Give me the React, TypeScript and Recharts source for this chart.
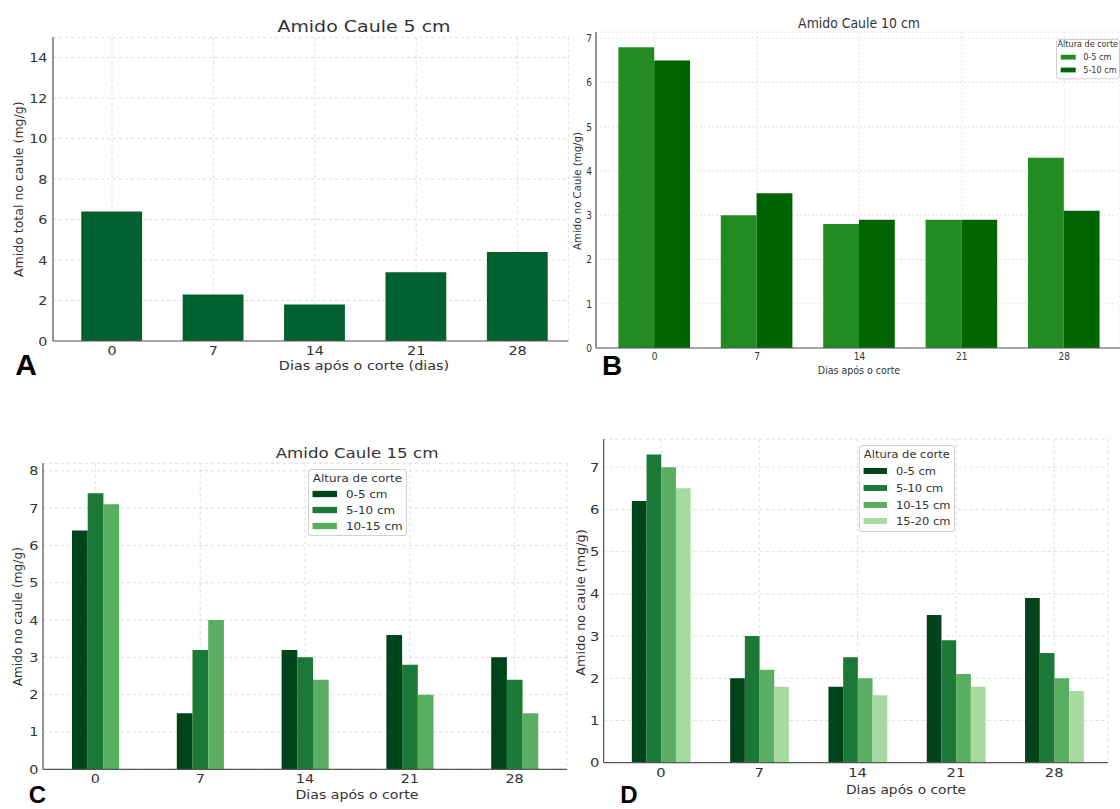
import React from 'react';
import { BarChart, Bar, XAxis, YAxis, CartesianGrid, Legend } from 'recharts';

// ---------- data ----------
const days = ['0', '7', '14', '21', '28'];

const caule5 = [6.4, 2.3, 1.8, 3.4, 4.4];

const caule10_0_5 = [6.8, 3.0, 2.8, 2.9, 4.3];
const caule10_5_10 = [6.5, 3.5, 2.9, 2.9, 3.1];

const caule15_0_5 = [6.4, 1.5, 3.2, 3.6, 3.0];
const caule15_5_10 = [7.4, 3.2, 3.0, 2.8, 2.4];
const caule15_10_15 = [7.1, 4.0, 2.4, 2.0, 1.5];

const caule20_0_5 = [6.2, 2.0, 1.8, 3.5, 3.9];
const caule20_5_10 = [7.3, 3.0, 2.5, 2.9, 2.6];
const caule20_10_15 = [7.0, 2.2, 2.0, 2.1, 2.0];
const caule20_15_20 = [6.5, 1.8, 1.6, 1.8, 1.7];

const ticksA = [0, 2, 4, 6, 8, 10, 12, 14];
const ticksB = [0, 1, 2, 3, 4, 5, 6, 7];
const ticksC = [0, 1, 2, 3, 4, 5, 6, 7, 8];
const ticksD = [0, 1, 2, 3, 4, 5, 6, 7];

const heightLabels = ['0-5 cm', '5-10 cm', '10-15 cm', '15-20 cm'];
const legendTitle = 'Altura de corte';

const titleA = 'Amido Caule 5 cm';
const titleB = 'Amido Caule 10 cm';
const titleC = 'Amido Caule 15 cm';
const xLabelA = 'Dias após o corte (dias)';
const xLabel = 'Dias após o corte';
const yLabelA = 'Amido total no caule (mg/g)';
const yLabelB = 'Amido no Caule (mg/g)';
const yLabelCD = 'Amido no caule (mg/g)';

const buildRows = (cols: number[][]) =>
  days.map((d, i) => {
    const row: Record<string, string | number> = { day: d };
    cols.forEach((c, j) => {
      row['s' + j] = c[i];
    });
    return row;
  });

// ---------- layout / style ----------
const FONT = 'DejaVu Sans, Verdana, sans-serif';
const TXT = '#333333';
const XAXIS_H = 30;

type SeriesDef = { key: string; name: string; color: string };
type LegendCfg = {
  left: number; top: number; width: number; height: number;
  titleX: number; titleY: number;
  patchX: number; patchW: number; patchH: number;
  rowY: number[]; labelX: number; font: number; sx: number;
};
type PanelCfg = {
  box: { left: number; top: number; width: number; height: number };
  plot: { left: number; right: number; top: number; bottom: number };
  padL: number; padR: number;
  domainMax: number; ticks: number[];
  data: Record<string, string | number>[];
  series: SeriesDef[];
  barSize: number;
  tickFont: number; sx: number; xTickDy: number; yTickGap: number;
  gridStroke: string; gridDash: string;
  legend?: LegendCfg;
};

const StretchText = ({ x, y, sx, anchor, size, children, fill = TXT, dy }: any) => (
  <g transform={`translate(${x},${y}) scale(${sx},1)`}>
    <text x={0} y={0} dy={dy} textAnchor={anchor} fontSize={size} fontFamily={FONT} fill={fill}>
      {children}
    </text>
  </g>
);

const panels: PanelCfg[] = [
  {
    box: { left: 0, top: 0, width: 570, height: 400 },
    plot: { left: 53, right: 568.3, top: 37.3, bottom: 341 },
    padL: 8.3, padR: 0,
    domainMax: 15, ticks: ticksA,
    data: buildRows([caule5]),
    series: [{ key: 's0', name: 'Amido', color: '#00602f' }],
    barSize: 60.8,
    tickFont: 12.5, sx: 1.15, xTickDy: 14, yTickGap: 5.5,
    gridStroke: '#d4d4d4', gridDash: '3 3',
  },
  {
    box: { left: 560, top: 0, width: 560, height: 400 },
    plot: { left: 596, right: 1120, top: 32.1, bottom: 348 },
    padL: 7.4, padR: 4.6,
    domainMax: 7.14, ticks: ticksB,
    data: buildRows([caule10_0_5, caule10_5_10]),
    series: [
      { key: 's0', name: heightLabels[0], color: '#228B22' },
      { key: 's1', name: heightLabels[1], color: '#006400' },
    ],
    barSize: 35.8,
    tickFont: 10.5, sx: 0.86, xTickDy: 12, yTickGap: 4,
    gridStroke: '#dcdcdc', gridDash: '2 2',
    legend: {
      left: 1056, top: 39, width: 64, height: 40.3,
      titleX: 31.8, titleY: 8,
      patchX: 4.7, patchW: 15, patchH: 4.8,
      rowY: [18.2, 31], labelX: 27.3, font: 9, sx: 0.9,
    },
  },
  {
    box: { left: 0, top: 430, width: 575, height: 379 },
    plot: { left: 43, right: 567, top: 463.3, bottom: 769.3 },
    padL: 0, padR: 0,
    domainMax: 8.2, ticks: ticksC,
    data: buildRows([caule15_0_5, caule15_5_10, caule15_10_15]),
    series: [
      { key: 's0', name: heightLabels[0], color: '#00441b' },
      { key: 's1', name: heightLabels[1], color: '#1b7837' },
      { key: 's2', name: heightLabels[2], color: '#5aae61' },
    ],
    barSize: 15.7,
    tickFont: 12.5, sx: 1.15, xTickDy: 13.4, yTickGap: 4.5,
    gridStroke: '#d4d4d4', gridDash: '3 3',
    legend: {
      left: 308, top: 469, width: 99, height: 67,
      titleX: 49.5, titleY: 12.7,
      patchX: 4.5, patchW: 24.5, patchH: 6.3,
      rowY: [25, 41, 57], labelX: 38, font: 10.4, sx: 1.15,
    },
  },
  {
    box: { left: 560, top: 430, width: 560, height: 379 },
    plot: { left: 603.6, right: 1108, top: 439.2, bottom: 762.7 },
    padL: 8.25, padR: 4.65,
    domainMax: 7.665, ticks: ticksD,
    data: buildRows([caule20_0_5, caule20_5_10, caule20_10_15, caule20_15_20]),
    series: [
      { key: 's0', name: heightLabels[0], color: '#00441b' },
      { key: 's1', name: heightLabels[1], color: '#1b7837' },
      { key: 's2', name: heightLabels[2], color: '#5aae61' },
      { key: 's3', name: heightLabels[3], color: '#a6dba0' },
    ],
    barSize: 14.7,
    tickFont: 12.8, sx: 1.15, xTickDy: 14, yTickGap: 4.3,
    gridStroke: '#d4d4d4', gridDash: '3 3',
    legend: {
      left: 859, top: 445, width: 96, height: 87,
      titleX: 47.8, titleY: 13.3,
      patchX: 4.6, patchW: 23.4, patchH: 6,
      rowY: [26, 43, 60, 76], labelX: 37, font: 10, sx: 1.15,
    },
  },
];

type OverlayText = { text: string; x: number; y: number; size: number; sx?: number; rotate?: boolean };
const overlayTexts: OverlayText[] = [
  { text: titleA, x: 364, y: 31.7, size: 16.5, sx: 1.15 },
  { text: xLabelA, x: 364, y: 370, size: 12.5, sx: 1.15 },
  { text: yLabelA, x: 18, y: 189.2, size: 12.5, rotate: true },
  { text: titleB, x: 859, y: 27.7, size: 14.5, sx: 0.86 },
  { text: xLabel, x: 859, y: 374, size: 11, sx: 0.86 },
  { text: yLabelB, x: 577, y: 191, size: 10.2, rotate: true },
  { text: titleC, x: 357, y: 458.3, size: 14.5, sx: 1.15 },
  { text: xLabel, x: 357, y: 798.5, size: 12.3, sx: 1.15 },
  { text: yLabelCD, x: 18, y: 616.7, size: 12.2, rotate: true },
  { text: xLabel, x: 906, y: 794, size: 12, sx: 1.15 },
  { text: yLabelCD, x: 580, y: 602.5, size: 12.8, rotate: true },
];

const panelLetters = [
  { text: 'A', x: 26, y: 375, size: 30 },
  { text: 'B', x: 612, y: 375, size: 28 },
  { text: 'C', x: 37.5, y: 803, size: 24 },
  { text: 'D', x: 629, y: 803, size: 24 },
];

const makeLegend = (lg: LegendCfg, series: SeriesDef[]) => (props: any) => {
  const payload: any[] = props.payload || [];
  // keep the legend in the same order as the series were drawn
  const items = series.map((s) => {
    const found = payload.find((p) => p.value === s.name);
    return { value: s.name, color: found ? found.color : s.color };
  });
  return (
    <svg width={lg.width} height={lg.height} style={{ display: 'block', overflow: 'visible' }}>
      <rect x={0.5} y={0.5} width={lg.width - 1} height={lg.height - 1} rx={2.5}
        fill="#ffffff" fillOpacity={0.85} stroke="#d0d0d0" strokeWidth={1} />
      <StretchText x={lg.titleX} y={lg.titleY} sx={lg.sx} anchor="middle" size={lg.font}>
        {legendTitle}
      </StretchText>
      {items.map((it, i) => (
        <g key={String(it.value)}>
          <rect x={lg.patchX} y={lg.rowY[i] - lg.patchH / 2} width={lg.patchW} height={lg.patchH} fill={it.color} />
          <StretchText x={lg.labelX} y={lg.rowY[i]} dy="0.36em" sx={lg.sx} anchor="start" size={lg.font}>
            {it.value}
          </StretchText>
        </g>
      ))}
    </svg>
  );
};

const Panel = ({ cfg }: { cfg: PanelCfg }) => {
  const { box, plot } = cfg;
  const margin = {
    top: plot.top - box.top,
    right: box.left + box.width - plot.right,
    bottom: box.top + box.height - plot.bottom - XAXIS_H,
    left: 0,
  };
  const yWidth = plot.left - box.left;
  return (
    <div style={{ position: 'absolute', left: box.left, top: box.top }}>
      <BarChart
        width={box.width}
        height={box.height}
        data={cfg.data}
        margin={margin}
        barGap={0}
        barCategoryGap={0}
      >
        <CartesianGrid stroke={cfg.gridStroke} strokeDasharray={cfg.gridDash} strokeWidth={0.8} />
        <XAxis
          dataKey="day"
          type="category"
          interval={0}
          height={XAXIS_H}
          padding={{ left: cfg.padL, right: cfg.padR }}
          tickLine={false}
          tickSize={0}
          tickMargin={0}
          axisLine={{ stroke: '#555555', strokeWidth: 1.2 }}
          tick={(p: any) => (
            <StretchText x={p.x} y={p.y + cfg.xTickDy} sx={cfg.sx} anchor="middle" size={cfg.tickFont}>
              {p.payload.value}
            </StretchText>
          )}
        />
        <YAxis
          type="number"
          width={yWidth}
          domain={[0, cfg.domainMax]}
          ticks={cfg.ticks}
          interval={0}
          tickLine={false}
          tickSize={0}
          tickMargin={cfg.yTickGap}
          axisLine={{ stroke: '#555555', strokeWidth: 1.2 }}
          tick={(p: any) => (
            <StretchText x={p.x} y={p.y} dy="0.36em" sx={cfg.sx} anchor="end" size={cfg.tickFont}>
              {p.payload.value}
            </StretchText>
          )}
        />
        {cfg.legend && (
          <Legend
            layout="horizontal"
            align="center"
            verticalAlign="middle"
            wrapperStyle={{
              position: 'absolute',
              left: cfg.legend.left - box.left,
              top: cfg.legend.top - box.top,
              width: cfg.legend.width,
              height: cfg.legend.height,
            }}
            content={makeLegend(cfg.legend, cfg.series)}
          />
        )}
        {cfg.series.map((s) => (
          <Bar
            key={s.key}
            dataKey={s.key}
            name={s.name}
            fill={s.color}
            barSize={cfg.barSize}
            isAnimationActive={false}
          />
        ))}
      </BarChart>
    </div>
  );
};

export default function App() {
  return (
    <div
      style={{
        position: 'absolute',
        left: 0,
        top: 0,
        width: 1120,
        height: 809,
        overflow: 'hidden',
        background: '#ffffff',
        fontFamily: FONT,
      }}
    >
      {panels.map((p, i) => (
        <Panel key={i} cfg={p} />
      ))}
      <svg
        width={1120}
        height={809}
        style={{ position: 'absolute', left: 0, top: 0, pointerEvents: 'none' }}
      >
        {overlayTexts.map((t, i) =>
          t.rotate ? (
            <text
              key={i}
              transform={`translate(${t.x},${t.y}) rotate(-90)`}
              textAnchor="middle"
              dy="0.36em"
              fontSize={t.size}
              fontFamily={FONT}
              fill={TXT}
            >
              {t.text}
            </text>
          ) : (
            <StretchText key={i} x={t.x} y={t.y} sx={t.sx} anchor="middle" size={t.size}>
              {t.text}
            </StretchText>
          )
        )}
        {panelLetters.map((l) => (
          <text
            key={l.text}
            x={l.x}
            y={l.y}
            textAnchor="middle"
            fontSize={l.size}
            fontWeight="bold"
            fontFamily="Liberation Sans, Arial, sans-serif"
            fill="#000000"
          >
            {l.text}
          </text>
        ))}
      </svg>
    </div>
  );
}
